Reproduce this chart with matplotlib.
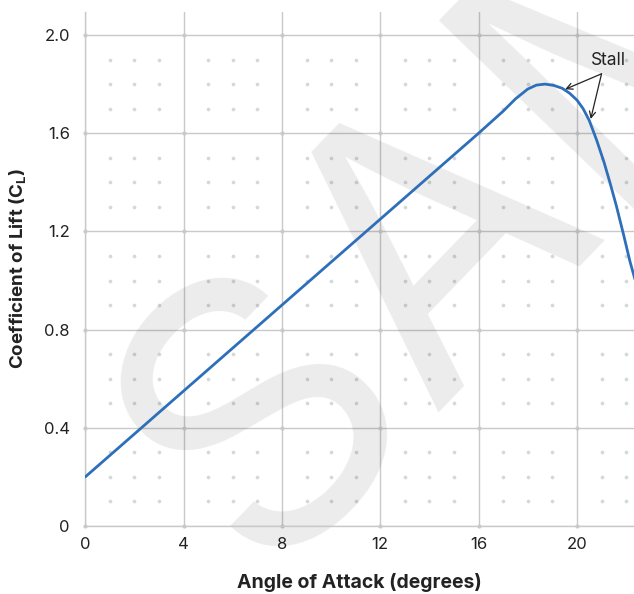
import numpy as np
import matplotlib.pyplot as plt

# angle of attack (deg) vs lift coefficient
alpha = [0, 4, 8, 12, 16, 17, 17.5, 18, 18.35, 18.7, 19.05, 19.4, 19.7, 20.0,
         20.25, 20.5, 20.8, 21.1, 21.35, 21.6, 21.9, 22.15, 22.4]
cl = [0.20, 0.55, 0.90, 1.25, 1.60, 1.69, 1.74, 1.78, 1.796, 1.80, 1.795, 1.783,
      1.763, 1.735, 1.70, 1.652, 1.572, 1.482, 1.396, 1.305, 1.185, 1.08, 0.99]

x_ticks = [0, 4, 8, 12, 16, 20]
y_ticks = [0, 0.4, 0.8, 1.2, 1.6, 2.0]
y_labels = ["0", "0.4", "0.8", "1.2", "1.6", "2.0"]

# where the two "Stall" arrows point
stall_pts = [(19.52, 1.779), (20.56, 1.658)]

plt.rcParams["font.family"] = ["Inter", "DejaVu Sans"]

fig = plt.figure(figsize=(6.34, 5.94), dpi=100)
ax = fig.add_axes([0.1345, 0.1145, 0.8655, 0.8658])
ax.set_xlim(0, 22.32)
ax.set_ylim(0, 2.095)

grid_c = "#c9c9c9"
ax.set_xticks(x_ticks)
ax.set_yticks(y_ticks)
ax.set_yticklabels(y_labels)
ax.grid(True, color=grid_c, lw=1, zorder=0)
ax.set_axisbelow(True)
for s in ["top", "right"]:
    ax.spines[s].set_visible(False)
for s in ["left", "bottom"]:
    ax.spines[s].set_color(grid_c)
    ax.spines[s].set_linewidth(1)
ax.tick_params(length=0, labelsize=12, labelcolor="#222222")
ax.tick_params(axis="y", pad=11)
ax.tick_params(axis="x", pad=8)

# dotted minor grid
mx = [v for v in range(0, 23) if v % 4 != 0]
my = [round(v * 0.1, 1) for v in range(0, 21) if v % 4 != 0]
gx, gy = np.meshgrid(mx, my)
ax.scatter(gx.ravel(), gy.ravel(), s=7, color="#d3d8d8", lw=0, zorder=1)
ix, iy = np.meshgrid(x_ticks, y_ticks)
ax.scatter(ix.ravel(), iy.ravel(), s=9, color=grid_c, lw=0, zorder=1, clip_on=False)

# watermark
ax.text(259 / 634, 1 - 576 / 594, "SAMPLE", transform=fig.transFigure,
        fontsize=270, color="black", alpha=0.08, rotation=46,
        rotation_mode="anchor", ha="left", va="baseline", zorder=2, clip_on=False)

ax.plot(alpha, cl, color="#2e6fba", lw=2, zorder=3, solid_capstyle="round")

for px, py in stall_pts:
    ax.annotate("", xy=(px, py), xytext=(21.0, 1.842),
                arrowprops=dict(arrowstyle="->", color="#222222", lw=0.9,
                                shrinkA=0, shrinkB=0, mutation_scale=11),
                zorder=4)
ax.text(21.28, 1.898, "Stall", fontsize=12.5, color="#222222", ha="center",
        va="center", zorder=4)

ax.set_xlabel("Angle of Attack (degrees)", fontsize=14, fontweight="bold",
              color="#222222", labelpad=15)
ax.set_ylabel("Coefficient of Lift (C$_\\mathregular{L}$)", fontsize=13.5,
              fontweight="bold", color="#222222", labelpad=11)

fig.savefig("out.png", dpi=100)
